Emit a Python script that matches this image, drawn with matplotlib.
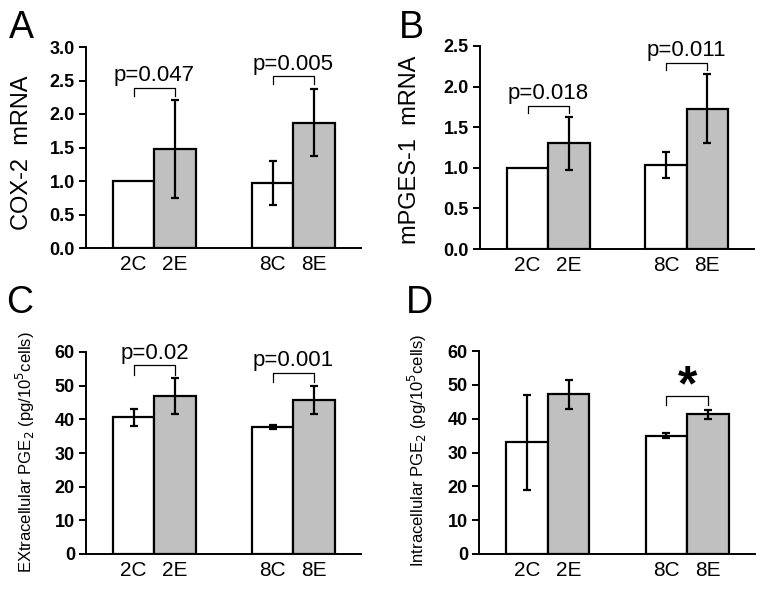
import matplotlib
matplotlib.use('Agg')
import matplotlib.pyplot as plt

plt.rcParams['font.family'] = ['Liberation Sans', 'DejaVu Sans']

labels = ['2C', '2E', '8C', '8E']
xpos = [1.15, 2.15, 4.5, 5.5]
fills = ['white', '#c0c0c0', 'white', '#c0c0c0']

cox2 = [1.0, 1.48, 0.97, 1.87]
cox2_err = [0, 0.73, 0.33, 0.5]
mpges = [1.0, 1.30, 1.04, 1.73]
mpges_err = [0, 0.33, 0.16, 0.42]
extra = [40.6, 47.0, 37.6, 45.8]
extra_err = [2.6, 5.4, 0.6, 4.1]
intra = [33.0, 47.2, 35.0, 41.3]
intra_err = [14.1, 4.3, 0.75, 1.3]

# brackets: (i, j, top, tick_bottom, text)
br_a = [(0, 1, 2.39, 2.27, 'p=0.047'), (2, 3, 2.56, 2.45, 'p=0.005')]
br_b = [(0, 1, 1.76, 1.67, 'p=0.018'), (2, 3, 2.29, 2.20, 'p=0.011')]
br_c = [(0, 1, 56.0, 53.3, 'p=0.02'), (2, 3, 53.8, 51.1, 'p=0.001')]
br_d = [(2, 3, 46.7, 44.0, '*')]

fig = plt.figure(figsize=(7.64, 5.91), dpi=100)
W, H = 764, 591


def make_ax(l, r, b, t):
    return fig.add_axes([l / W, 1 - b / H, (r - l) / W, (b - t) / H])


def panel(ax, vals, errs, ymax, ystep, fmt, brackets):
    for k in range(4):
        ax.bar(xpos[k], vals[k], width=1.0, color=fills[k], edgecolor='black',
               linewidth=1.6, zorder=2)
        if errs[k] > 0:
            ax.errorbar(xpos[k], vals[k], yerr=errs[k], fmt='none', ecolor='black',
                        elinewidth=1.6, capsize=3, capthick=1.6, zorder=3)
    ax.set_xlim(0, 6.63)
    ax.set_ylim(0, ymax)
    ticks = [i * ystep for i in range(int(round(ymax / ystep)) + 1)]
    ax.set_yticks(ticks)
    ax.set_yticklabels([fmt.format(t) for t in ticks], fontweight='bold', fontsize=13)
    ax.set_xticks(xpos)
    ax.set_xticklabels(labels, fontsize=15)
    ax.tick_params(axis='x', length=0, pad=5)
    ax.tick_params(axis='y', length=5, width=1.4, pad=3)
    for s in ['top', 'right']:
        ax.spines[s].set_visible(False)
    ax.spines['left'].set_linewidth(1.4)
    ax.spines['bottom'].set_linewidth(1.4)
    ax.spines['left'].set_bounds(0, ymax)
    for i, j, top, bot, txt in brackets:
        ax.plot([xpos[i], xpos[i], xpos[j], xpos[j]], [bot, top, top, bot],
                color='black', linewidth=0.9, clip_on=False)
        if txt == '*':
            ax.annotate(txt, xy=((xpos[i] + xpos[j]) / 2, top), xytext=(0, -10),
                        textcoords='offset points', ha='center', va='bottom',
                        fontsize=36, fontweight='bold', annotation_clip=False)
        else:
            ax.annotate(txt, xy=((xpos[i] + xpos[j]) / 2, top), xytext=(0, 5),
                        textcoords='offset points', ha='center', va='baseline',
                        fontsize=16, annotation_clip=False)


axA = make_ax(86, 361, 248, 47)
panel(axA, cox2, cox2_err, 3.0, 0.5, '{:.1f}', br_a)
axB = make_ax(480, 754, 249, 46)
panel(axB, mpges, mpges_err, 2.5, 0.5, '{:.1f}', br_b)
axC = make_ax(86, 361, 554, 352)
panel(axC, extra, extra_err, 60, 10, '{:.0f}', br_c)
axD = make_ax(479, 755, 554, 351)
panel(axD, intra, intra_err, 60, 10, '{:.0f}', br_d)

fig.text(22 / W, 1 - 153 / H, 'COX-2  mRNA', rotation=90, ha='center', va='center', fontsize=17)
fig.text(410 / W, 1 - 150 / H, 'mPGES-1  mRNA', rotation=90, ha='center', va='center', fontsize=17)
fig.text(25 / W, 1 - 452 / H, 'EXtracellular PGE$_2$ (pg/10$^5$cells)', rotation=90,
         ha='center', va='center', fontsize=12)
fig.text(417 / W, 1 - 450 / H, 'Intracellular PGE$_2$ (pg/10$^5$cells)', rotation=90,
         ha='center', va='center', fontsize=12)

for letter, x, y in [('A', 9, 10), ('B', 399, 10), ('C', 6, 285), ('D', 406, 285)]:
    fig.text(x / W, 1 - y / H, letter, ha='left', va='top', fontsize=27)

fig.savefig('out.png', dpi=100)
